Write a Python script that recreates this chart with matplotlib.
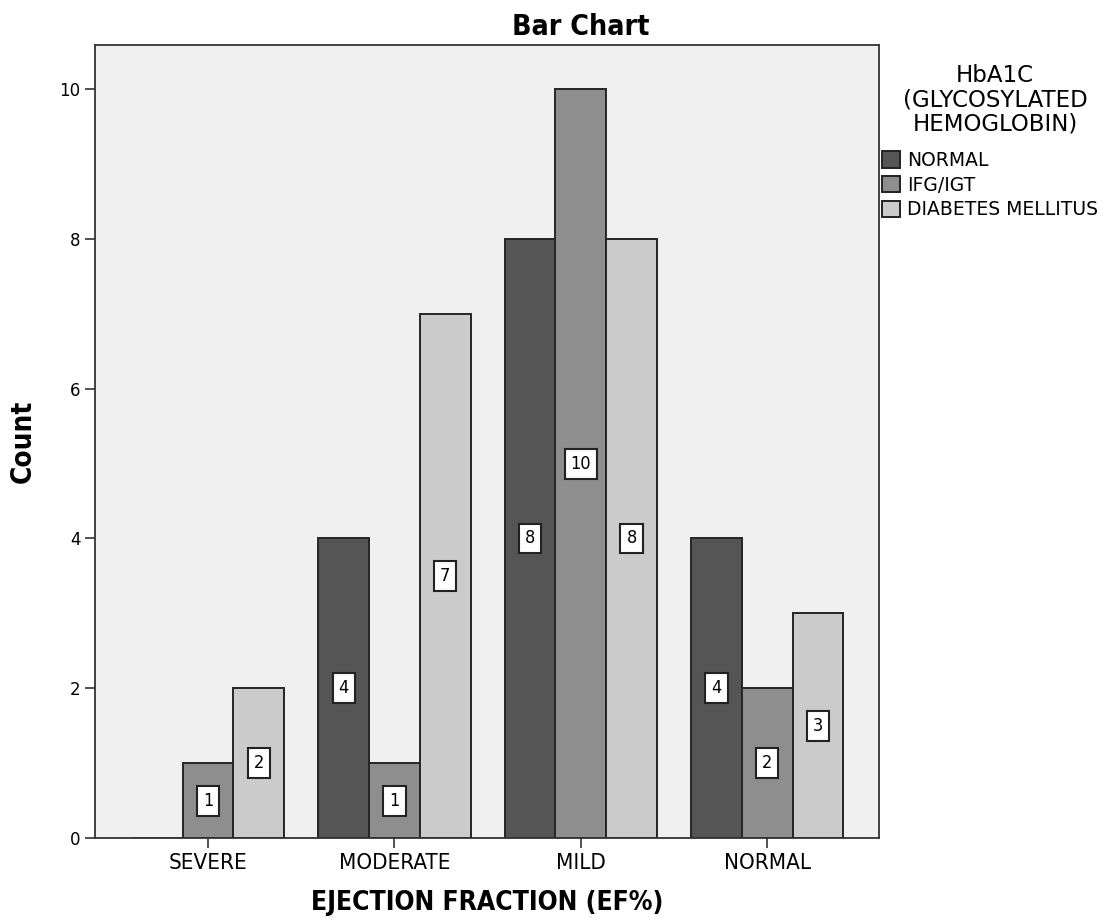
import matplotlib
matplotlib.use("Agg")
import matplotlib.pyplot as plt
import numpy as np
from matplotlib.patches import Patch

categories = ["SEVERE", "MODERATE", "MILD", "NORMAL"]
series_names = ["NORMAL", "IFG/IGT", "DIABETES MELLITUS"]
normal_vals = [0, 4, 8, 4]
ifg_vals = [1, 1, 10, 2]
dm_vals = [2, 7, 8, 3]
legend_title_lines = ["HbA1C", "(GLYCOSYLATED", "HEMOGLOBIN)"]
colors = ["#555555", "#8e8e8e", "#cbcbcb"]

W, H = 1114, 924
fig = plt.figure(figsize=(W / 100, H / 100), dpi=100)
ax = fig.add_axes([95/W, 1-838/H, (879-95)/W, (838-45)/H])
ax.set_facecolor("#f0f0f0")

x = np.arange(len(categories))
w = 0.272
for i, (vals, c) in enumerate(zip([normal_vals, ifg_vals, dm_vals], colors)):
    pos = x + (i - 1) * w
    ax.bar(pos, vals, width=w, color=c, edgecolor="#252525", linewidth=1.4, zorder=2)
    for p, v in zip(pos, vals):
        if v > 0:
            ax.text(p, v / 2, str(v), ha="center", va="center", fontsize=13,
                    family="DejaVu Sans", fontstretch="condensed", zorder=3,
                    bbox=dict(boxstyle="square,pad=0.33", fc="white", ec="#222222", lw=1.5))

ax.set_xlim(-0.607, 3.60)
ax.set_ylim(0, 10.59)
ax.set_xticks(x)
ax.set_xticklabels(categories, fontsize=16, family="DejaVu Sans", fontstretch="condensed")
ax.set_yticks([0, 2, 4, 6, 8, 10])
ax.set_yticklabels(["0", "2", "4", "6", "8", "10"], fontsize=12, family="DejaVu Sans")
ax.tick_params(axis="both", direction="out", length=7, width=1.2, color="#333333")
ax.tick_params(axis="x", pad=4)
for s in ax.spines.values():
    s.set_linewidth(1.3)
    s.set_color("#333333")

fig.text(581/W, 1-35/H, "Bar Chart", ha="center", va="baseline", fontsize=20.5,
         fontweight="bold", family="DejaVu Sans", fontstretch="condensed")
ax.set_xlabel("EJECTION FRACTION (EF%)", fontsize=19, fontweight="bold",
              family="DejaVu Sans", fontstretch="condensed", labelpad=12)
ax.set_ylabel("Count", fontsize=20, fontweight="bold", family="DejaVu Sans",
              fontstretch="condensed", labelpad=16)

# legend title (three centred lines)
for line, yc in zip(legend_title_lines, [75, 100, 124]):
    fig.text(995/W, 1-yc/H, line, ha="center", va="center", fontsize=16.5,
             family="DejaVu Sans")

handles = [Patch(facecolor=c, edgecolor="#222222", linewidth=1.4) for c in colors]
leg = fig.legend(handles, series_names, loc="upper left",
                 bbox_to_anchor=(882/W, 1-151/H), frameon=False,
                 fontsize=13.5, handlelength=0.95, handleheight=0.95,
                 handletextpad=0.4, labelspacing=0.3, borderpad=0.0, borderaxespad=0.0)

fig.savefig("out.png", dpi=100)
